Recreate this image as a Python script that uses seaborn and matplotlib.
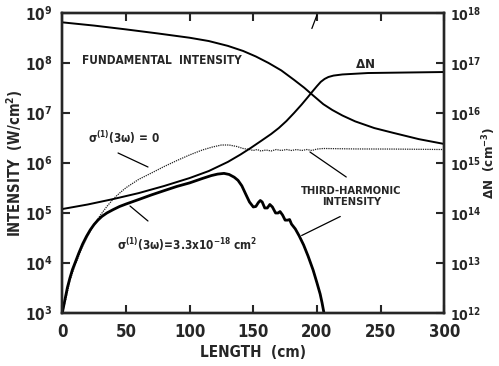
import numpy as np
import pandas as pd
import matplotlib
matplotlib.use("Agg")
import matplotlib.pyplot as plt
import seaborn as sns

# ---------------- data ----------------
fund_len = [0, 25, 50, 75, 100, 115, 130, 142, 152, 162, 172, 182, 190, 197, 205, 212,
            220, 230, 245, 260, 280, 300]
fund_int = [6.5e8, 5.6e8, 4.7e8, 3.9e8, 3.2e8, 2.75e8, 2.2e8, 1.74e8, 1.35e8, 1.0e8,
            7.1e7, 4.6e7, 3.2e7, 2.24e7, 1.5e7, 1.15e7, 8.9e6, 6.8e6, 5.0e6, 4.0e6,
            3.0e6, 2.4e6]

dn_len = [0, 20, 40, 60, 80, 100, 115, 130, 140, 148, 156, 164, 170, 176, 182, 188, 193,
          197, 200, 203, 206, 209, 213, 220, 240, 270, 300]
dn_val = [1.2e14, 1.48e14, 1.9e14, 2.5e14, 3.47e14, 5.0e14, 6.9e14, 1.05e15, 1.48e15,
          2.0e15, 2.75e15, 3.8e15, 5.0e15, 6.9e15, 1.0e16, 1.48e16, 2.1e16, 2.8e16,
          3.45e16, 4.2e16, 4.8e16, 5.25e16, 5.6e16, 5.9e16, 6.3e16, 6.45e16, 6.6e16]

th0_len = [0, 3, 6, 10, 15, 20, 25, 30, 35, 40, 45, 50, 60, 70, 80, 90, 100, 110, 118,
           125, 131, 137, 142, 147, 150, 153, 156, 160, 164, 168, 172, 176, 180, 184,
           188, 192, 196, 200, 205, 230, 260, 300]
th0_int = [1.0e3, 2.0e3, 4.5e3, 8.9e3, 1.9e4, 3.5e4, 5.9e4, 9.1e4, 1.35e5, 1.9e5, 2.5e5,
           3.2e5, 4.7e5, 6.3e5, 8.5e5, 1.12e6, 1.45e6, 1.82e6, 2.09e6, 2.29e6, 2.29e6,
           2.14e6, 1.95e6, 1.86e6, 1.78e6, 1.86e6, 1.74e6, 1.82e6, 1.74e6, 1.86e6,
           1.78e6, 1.86e6, 1.78e6, 1.86e6, 1.78e6, 1.86e6, 1.78e6, 1.9e6, 1.95e6,
           1.91e6, 1.9e6, 1.86e6]

th_len = [0, 2, 4, 6, 8, 10, 13, 16, 19, 22, 25, 28, 31, 35, 40, 45, 50, 60, 70, 80, 90,
          100, 110, 117, 122, 127, 131, 135, 138, 141, 144, 147, 150, 152, 154, 155.5,
          157, 159, 161, 163, 165, 167.5, 169.5, 171, 173, 175, 177, 178.5, 180, 183,
          186, 189.5, 193, 197, 200, 202.5, 204, 205.5]
th_int = [1.0e3, 1.8e3, 3.2e3, 5.0e3, 7.4e3, 1.0e4, 1.58e4, 2.4e4, 3.4e4, 4.6e4, 5.9e4,
          7.2e4, 8.5e4, 1.0e5, 1.17e5, 1.35e5, 1.51e5, 1.86e5, 2.3e5, 2.8e5, 3.4e5,
          4.0e5, 4.9e5, 5.6e5, 6.0e5, 6.2e5, 5.9e5, 5.2e5, 4.5e5, 3.5e5, 2.4e5, 1.66e5,
          1.32e5, 1.35e5, 1.62e5, 1.78e5, 1.66e5, 1.26e5, 1.26e5, 1.48e5, 1.32e5,
          1.0e5, 1.0e5, 1.07e5, 9.1e4, 7.2e4, 7.2e4, 7.4e4, 6.0e4, 4.8e4, 3.5e4, 2.3e4,
          1.38e4, 7.2e3, 4.0e3, 2.4e3, 1.6e3, 1.0e3]

x_ticks = [0, 50, 100, 150, 200, 250, 300]
y_exps = [3, 4, 5, 6, 7, 8, 9]
y2_exps = [12, 13, 14, 15, 16, 17, 18]

# ---------------- style ----------------
sns.set_style("ticks")
plt.rcParams["font.family"] = ["DejaVu Sans"]
plt.rcParams["font.stretch"] = "condensed"
plt.rcParams["font.weight"] = "bold"
plt.rcParams["axes.labelweight"] = "bold"
plt.rcParams["mathtext.fontset"] = "custom"
plt.rcParams["mathtext.rm"] = "DejaVu Sans:weight=bold:stretch=condensed"
plt.rcParams["mathtext.it"] = "DejaVu Sans:style=italic:weight=bold:stretch=condensed"
plt.rcParams["mathtext.bf"] = "DejaVu Sans:weight=bold:stretch=condensed"
plt.rcParams["mathtext.default"] = "rm"

fig = plt.figure(figsize=(4.99, 3.66), dpi=100)
ax = fig.add_axes([0.1248, 0.1448, 0.7656, 0.8197])
ax2 = ax.twinx()

df_f = pd.DataFrame({"L": fund_len, "I": fund_int})
df_dn = pd.DataFrame({"L": dn_len, "N": dn_val})
df_0 = pd.DataFrame({"L": th0_len, "I": th0_int})
df_t = pd.DataFrame({"L": th_len, "I": th_int})

sns.lineplot(data=df_f, x="L", y="I", ax=ax, color="black", lw=1.4)
sns.lineplot(data=df_0, x="L", y="I", ax=ax, color="#222222", lw=0.9, linestyle=(0, (1, 0.8)))
sns.lineplot(data=df_t, x="L", y="I", ax=ax, color="black", lw=2.0)
sns.lineplot(data=df_dn, x="L", y="N", ax=ax2, color="black", lw=1.4)

ax.set_yscale("log")
ax2.set_yscale("log")
ax.set_xlim(0, 300)
ax.set_ylim(1e3, 1e9)
ax2.set_ylim(1e12, 1e18)

ax.set_xticks(x_ticks)
ax.set_xticklabels([str(v) for v in x_ticks])
ax.set_yticks([10.0 ** e for e in y_exps])
ax.set_yticklabels([r"$10^{%d}$" % e for e in y_exps])
ax2.set_yticks([10.0 ** e for e in y2_exps])
ax2.set_yticklabels([r"$10^{%d}$" % e for e in y2_exps])
ax.minorticks_off()
ax2.minorticks_off()

for a in (ax, ax2):
    for s in a.spines.values():
        s.set_linewidth(1.7)
        s.set_visible(True)
    a.tick_params(direction="in", length=6, width=1.5, labelsize=11)
ax.tick_params(axis="x", top=True, labeltop=False, labelsize=12, pad=7)
ax.tick_params(axis="y", pad=7)
ax2.tick_params(axis="y", pad=4, labelsize=10)

ax.set_xlabel("LENGTH  (cm)", fontsize=11)
ax.set_ylabel(r"INTENSITY  (W/cm$^{2}$)", fontsize=10.5)
ax2.set_ylabel(r"$\Delta$N  (cm$^{-3}$)", fontsize=9.5)
ax.xaxis.set_label_coords(0.5, -0.105)
ax.yaxis.set_label_coords(-0.098, 0.5)
ax2.yaxis.set_label_coords(1.094, 0.5)

# annotations
ax.text(15.5, 1.1e8, "FUNDAMENTAL  INTENSITY", fontsize=8.5, va="center", ha="left")
ax.text(238, 9.5e7, r"$\Delta$N", fontsize=9.5, va="center", ha="center")
ax.text(20, 3.2e6, r"$\sigma^{(1)}(3\omega)$ = 0", fontsize=8.5, va="center", ha="left")
ax.text(227, 2.1e5, "THIRD-HARMONIC\nINTENSITY", fontsize=8, va="center",
        ha="center", linespacing=1.15)
ax.text(43, 1.85e4, r"$\sigma^{(1)}(3\omega)$=3.3x10$^{-18}$ cm$^{2}$", fontsize=8.5,
        va="baseline", ha="left")

lw = 0.9
ax.plot([43.8, 67.3], [10 ** 6.2, 10 ** 5.92], color="black", lw=lw)
ax.plot([53.2, 67.3], [10 ** 5.14, 10 ** 4.84], color="black", lw=lw)
ax.plot([218.3, 188], [10 ** 4.93, 10 ** 4.55], color="black", lw=lw)
ax.plot([194.5, 223], [10 ** 6.22, 10 ** 5.72], color="black", lw=lw)
ax.plot([196, 200], [10 ** 8.69, 10 ** 8.96], color="black", lw=lw)

fig.savefig("out.png", dpi=100)
